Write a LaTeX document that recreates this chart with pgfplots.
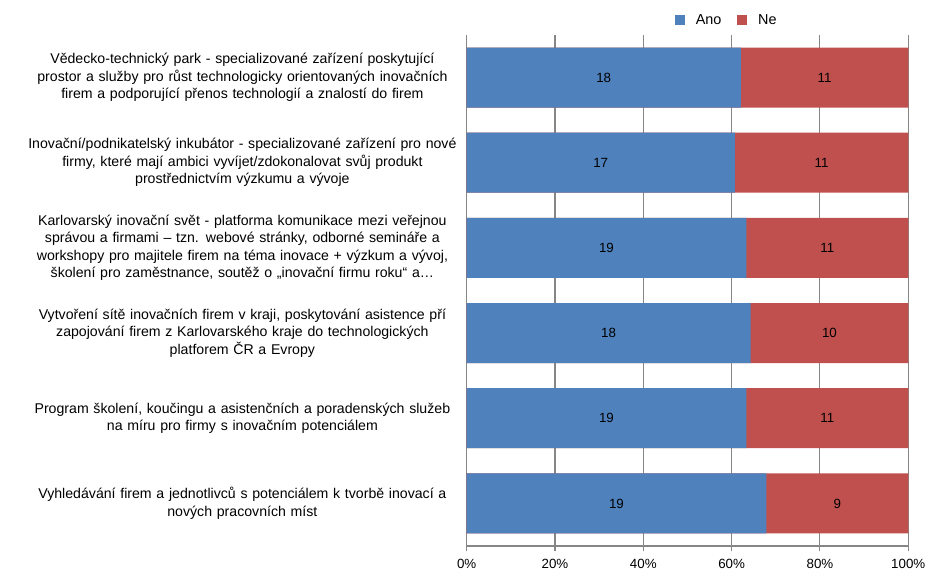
\documentclass[border=0pt]{standalone}
\usepackage{pgfplots}
\usepackage{pgfplotstable}
\pgfplotsset{compat=1.18}
\usepackage{fontspec}
\setmainfont{Liberation Sans}

\definecolor{ano}{HTML}{4F81BD}
\definecolor{ne}{HTML}{C0504D}
\definecolor{axgray}{HTML}{868686}

% pos, counts, share of "Ano" in %
\pgfplotstableread{
pos ano ne pa tot
0 18 11 62.07 100
1 17 11 60.71 100
2 19 11 63.33 100
3 18 10 64.29 100
4 19 11 63.33 100
5 19 9 67.86 100
}\data

\begin{document}
\begin{tikzpicture}
\path[use as bounding box] (0,0) rectangle (704.25pt,439.5pt);
\begin{axis}[
  at={(350pt,30pt)}, anchor=south west,
  scale only axis,
  width=331.2pt, height=383.3pt,
  font=\fontsize{10}{13}\selectfont,
  xmin=0, xmax=100,
  ymin=-0.5, ymax=5.5,
  y dir=reverse,
  bar width=45pt,
  axis x line*=bottom,
  axis y line*=left,
  axis line style={draw=axgray, line width=0.8pt},
  xtick={0,20,...,100},
  xticklabel={\pgfmathprintnumber{\tick}\%},
  /pgf/number format/assume math mode=true,
  xmajorgrids,
  grid style={draw=axgray, line width=0.8pt},
  major tick style={draw=axgray, line width=0.8pt},
  minor tick style={draw=axgray, line width=0.8pt},
  tick align=outside,
  major tick length=4pt,
  minor tick length=4pt,
  ytick={0,...,5},
  ytick style={draw=none},
  minor ytick={-0.5,0.5,...,5.5},
  yticklabels={
    {Vědecko-technický park - specializované zařízení poskytující\\prostor a služby pro růst technologicky orientovaných inovačních\\firem a podporující přenos technologií a znalostí do firem},
    {Inovační/podnikatelský inkubátor - specializované zařízení pro nové\\firmy, které mají ambici vyvíjet/zdokonalovat svůj produkt\\prostřednictvím výzkumu a vývoje},
    {Karlovarský inovační svět - platforma komunikace mezi veřejnou\\správou a firmami – tzn. webové stránky, odborné semináře a\\workshopy pro majitele firem na téma inovace + výzkum a vývoj,\\školení pro zaměstnance, soutěž o „inovační firmu roku“ a…},
    {Vytvoření sítě inovačních firem v kraji, poskytování asistence pří\\zapojování firem z Karlovarského kraje do technologických\\platforem ČR a Evropy},
    {Program školení, koučingu a asistenčních a poradenských služeb\\na míru pro firmy s inovačním potenciálem},
    {Vyhledávání firem a jednotlivců s potenciálem k tvorbě inovací a\\nových pracovních míst}
  },
  yticklabel style={font=\fontsize{10.6}{13.1}\selectfont, text width=322pt, align=center, anchor=east, inner sep=0pt, xshift=-3pt},
  xticklabel style={yshift=-2pt},
  legend style={at={(0.59,1.029)}, anchor=center, draw=none, fill=none,
    font=\fontsize{10.8}{13}\selectfont,
    legend columns=2, column sep=6pt,
    /tikz/every even column/.append style={column sep=10pt}},
  legend image code/.code={\fill[#1] (0pt,-3.75pt) rectangle (7.5pt,3.75pt);},
]
\addlegendimage{fill=ano, draw=none}
\addlegendentry{Ano}
\addlegendimage{fill=ne, draw=none}
\addlegendentry{Ne}

\addplot[xbar, fill=ne, draw=none, forget plot] table[x=tot, y=pos] {\data};
\addplot[xbar, fill=ano, draw=none, forget plot] table[x=pa, y=pos] {\data};

\addplot[draw=none, forget plot, nodes near coords, point meta=explicit symbolic,
  every node near coord/.append style={anchor=center, text=black}]
  table[x expr=\thisrow{pa}/2, y=pos, meta=ano] {\data};
\addplot[draw=none, forget plot, nodes near coords, point meta=explicit symbolic,
  every node near coord/.append style={anchor=center, text=black}]
  table[x expr=(100+\thisrow{pa})/2, y=pos, meta=ne] {\data};
\end{axis}
\end{tikzpicture}
\end{document}
